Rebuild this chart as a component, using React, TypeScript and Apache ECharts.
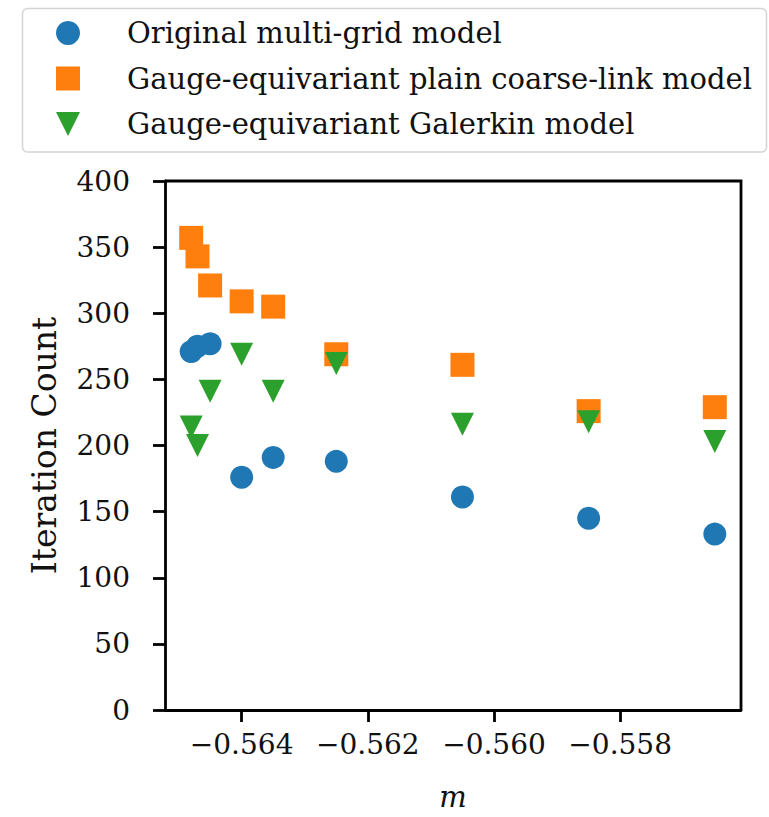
import React, { useEffect, useRef } from "react";
import * as echarts from "echarts";

// Bare mass parameter m for each run
const massValues = [-0.5648, -0.5647, -0.5645, -0.564, -0.5635, -0.5625, -0.5605, -0.5585, -0.5565];

// Solver iteration counts per model
const originalMultigrid = [271, 275, 277, 176, 191, 188, 161, 145, 133];
const plainCoarseLink = [357, 343, 321, 309, 305, 269, 261, 226, 229];
const galerkin = [214, 200, 241, 269, 241, 262, 216, 218, 203];

const seriesNames = [
  "Original multi-grid model",
  "Gauge-equivariant plain coarse-link model",
  "Gauge-equivariant Galerkin model",
];

const xTicks = [-0.564, -0.562, -0.56, -0.558];
const yTickStep = 50;

const FONT = "DejaVu Serif";
const COLORS = ["#1f77b4", "#ff7f0e", "#2ca02c"];

const W = 769;
const H = 817;
const GRID = { left: 165, right: 28, top: 181, bottom: 107 };
const FRAME_WIDTH = 2.8;

const pairs = (ys: number[]) => massValues.map((m, i) => [m, ys[i]]);

export default function App() {
  const ref = useRef<HTMLDivElement>(null);

  useEffect(() => {
    if (!ref.current) return;
    const chart = echarts.init(ref.current, undefined, { renderer: "svg" });
    const axisLine = { show: true, lineStyle: { color: "#000", width: FRAME_WIDTH } };
    const tickStyle = { show: true, length: 12, lineStyle: { color: "#000", width: FRAME_WIDTH } };
    const right = W - GRID.right;
    const bottom = H - GRID.bottom;

    chart.setOption({
      animation: false,
      backgroundColor: "#fff",
      graphic: [
        {
          type: "rect",
          z: 0,
          shape: { x: 22.5, y: 8.5, width: 744, height: 143.5, r: 5 },
          style: { fill: "#fff", stroke: "#d4d4d4", lineWidth: 1.5 },
        },
        {
          // top and right edges of the plot frame
          type: "polyline",
          z: 10,
          shape: { points: [[GRID.left, GRID.top], [right, GRID.top], [right, bottom]] },
          style: { stroke: "#000", lineWidth: FRAME_WIDTH, fill: "none" },
        },
      ],
      legend: {
        orient: "vertical",
        left: 56,
        top: 17,
        padding: 0,
        itemWidth: 24,
        itemHeight: 24,
        itemGap: 13.5,
        data: [
          { name: seriesNames[0], icon: "circle" },
          { name: seriesNames[1], icon: "rect" },
          { name: seriesNames[2], icon: "path://M0,0L2,0L1,2Z" },
        ],
        textStyle: {
          fontFamily: FONT,
          fontSize: 29,
          lineHeight: 32,
          color: "#111",
          padding: [0, 0, 0, 42],
        },
      },
      grid: { ...GRID, containLabel: false },
      xAxis: {
        type: "value",
        min: -0.565215,
        max: -0.556085,
        name: "m",
        nameLocation: "middle",
        nameGap: 72,
        nameTextStyle: { fontFamily: FONT, fontSize: 29, fontStyle: "italic", color: "#111" },
        axisLine,
        axisTick: { ...tickStyle, customValues: xTicks },
        axisLabel: {
          fontFamily: FONT,
          fontSize: 28,
          color: "#111",
          margin: 20,
          customValues: xTicks,
          formatter: (v: number) => (v < 0 ? "\u2212" : "") + Math.abs(v).toFixed(3),
        },
        splitLine: { show: false },
      },
      yAxis: {
        type: "value",
        min: 0,
        max: 400,
        interval: yTickStep,
        name: "Iteration Count",
        nameLocation: "middle",
        nameGap: 104,
        nameTextStyle: { fontFamily: FONT, fontSize: 33, color: "#111" },
        axisLine,
        axisTick: tickStyle,
        axisLabel: { fontFamily: FONT, fontSize: 28, color: "#111", margin: 35 },
        splitLine: { show: false },
      },
      series: [
        {
          name: seriesNames[0],
          type: "scatter",
          symbol: "circle",
          symbolSize: 23,
          itemStyle: { color: COLORS[0], opacity: 1 },
          data: pairs(originalMultigrid),
          z: 3,
        },
        {
          name: seriesNames[1],
          type: "scatter",
          symbol: "rect",
          symbolSize: 24,
          itemStyle: { color: COLORS[1], opacity: 1 },
          data: pairs(plainCoarseLink),
          z: 4,
        },
        {
          name: seriesNames[2],
          type: "scatter",
          symbol: "triangle",
          symbolRotate: 180,
          symbolSize: 23,
          itemStyle: { color: COLORS[2], opacity: 1 },
          data: pairs(galerkin),
          z: 5,
        },
      ],
    });

    return () => chart.dispose();
  }, []);

  return (
    <div
      ref={ref}
      style={{ position: "absolute", left: 0, top: 0, width: W, height: H }}
    />
  );
}
